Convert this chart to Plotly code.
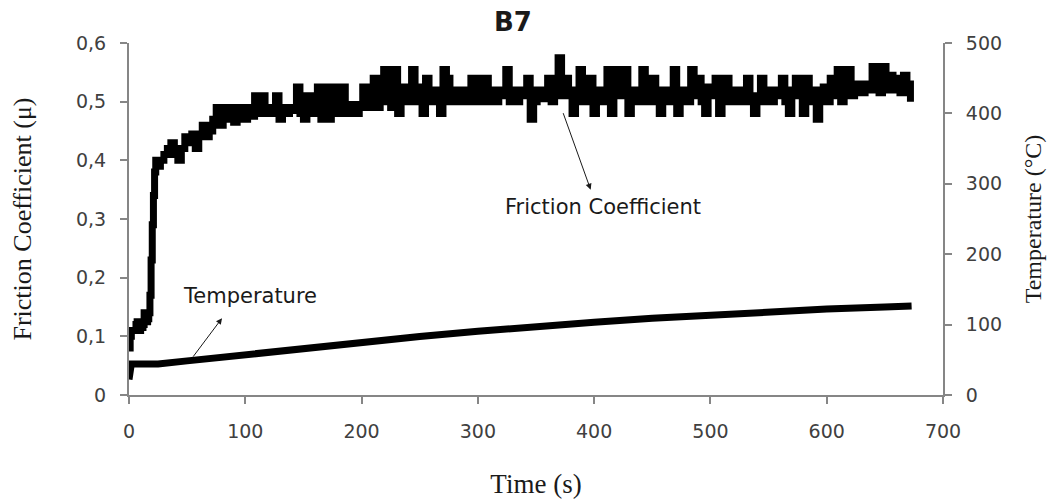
import numpy as np
import plotly.graph_objects as go

# ---- Data ----
# Friction coefficient, start-up phase (explicit times, s)
early_time = [0, 1, 2, 4, 6, 7, 8, 10, 12, 13, 14, 16, 17, 18, 19, 20, 21, 22, 23, 25, 27]
early_mu = [0.08, 0.10, 0.11, 0.11, 0.12, 0.125, 0.11, 0.115, 0.12, 0.14, 0.125, 0.13, 0.14,
            0.17, 0.23, 0.29, 0.34, 0.38, 0.40, 0.39, 0.40]

# Friction coefficient, sampled every 3 s from t = 30 s
plateau_start = 30
plateau_step = 3
plateau_mu = [
    0.41, 0.42, 0.43, 0.41, 0.40, 0.42, 0.44, 0.43, 0.445, 0.42,   # 30-57
    0.44, 0.46, 0.44, 0.45, 0.47, 0.49, 0.46, 0.49, 0.47, 0.49,    # 60-87
    0.465, 0.48, 0.49, 0.47, 0.49, 0.475, 0.51, 0.48, 0.51, 0.49,  # 90-117
    0.48, 0.49, 0.51, 0.47, 0.49, 0.48, 0.49, 0.485, 0.525, 0.48,  # 120-147
    0.47, 0.51, 0.49, 0.48, 0.525, 0.47, 0.525, 0.47, 0.525, 0.49, # 150-177
    0.48, 0.525, 0.49, 0.48, 0.495, 0.48, 0.49, 0.525, 0.49, 0.50, # 180-207
    0.54, 0.49, 0.51, 0.555, 0.50, 0.49, 0.555, 0.48, 0.525, 0.50, # 210-237
    0.51, 0.555, 0.50, 0.525, 0.48, 0.54, 0.51, 0.50, 0.52, 0.48,  # 240-267
    0.555, 0.54, 0.50, 0.52, 0.51, 0.50, 0.52, 0.50, 0.54, 0.51,   # 270-297
    0.50, 0.54, 0.54, 0.50, 0.52, 0.50, 0.51, 0.52, 0.555, 0.50,   # 300-327
    0.52, 0.50, 0.51, 0.52, 0.54, 0.47, 0.50, 0.52, 0.505, 0.52,   # 330-357
    0.54, 0.50, 0.52, 0.575, 0.51, 0.54, 0.52, 0.48, 0.52, 0.555,  # 360-387
    0.50, 0.52, 0.54, 0.48, 0.52, 0.50, 0.52, 0.555, 0.48, 0.52,   # 390-417
    0.555, 0.51, 0.555, 0.48, 0.52, 0.50, 0.52, 0.555, 0.50, 0.52, # 420-447
    0.54, 0.50, 0.48, 0.52, 0.50, 0.52, 0.555, 0.48, 0.51, 0.52,   # 450-477
    0.50, 0.555, 0.51, 0.54, 0.50, 0.48, 0.525, 0.51, 0.54, 0.48,  # 480-507
    0.52, 0.54, 0.50, 0.52, 0.51, 0.50, 0.52, 0.54, 0.50, 0.48,    # 510-537
    0.51, 0.54, 0.50, 0.52, 0.50, 0.52, 0.51, 0.54, 0.50, 0.48,    # 540-567
    0.52, 0.54, 0.51, 0.48, 0.54, 0.50, 0.52, 0.47, 0.51, 0.525,   # 570-597
    0.50, 0.54, 0.51, 0.555, 0.50, 0.52, 0.555, 0.51, 0.52, 0.53,  # 600-627
    0.515, 0.53, 0.52, 0.56, 0.53, 0.515, 0.56, 0.52, 0.545, 0.52, # 630-657
    0.54, 0.515, 0.545, 0.53, 0.50,                                # 660-672
]

# Temperature (°C)
temp_time = [0, 1, 2, 20, 25, 50, 100, 150, 200, 250, 300, 350, 400, 450, 500, 550, 600, 650, 673]
temp_val = [22, 35, 44, 44, 44, 48.5, 57.5, 66.5, 75, 83, 90.5, 97.5, 103.5, 109, 114, 118.5,
            122, 125, 126.5]

# Axis ticks
x_ticks = [0, 100, 200, 300, 400, 500, 600, 700]
mu_ticks = [0, 0.1, 0.2, 0.3, 0.4, 0.5, 0.6]
mu_tick_text = ["0", "0,1", "0,2", "0,3", "0,4", "0,5", "0,6"]
t_ticks = [0, 100, 200, 300, 400, 500]

plateau_time = [plateau_start + plateau_step * i for i in range(len(plateau_mu))]
friction_time = early_time + plateau_time
friction_mu = early_mu + plateau_mu

axis_grey = "#868686"
sans = "DejaVu Sans, Open Sans, sans-serif"
serif = "Liberation Serif, Times New Roman, serif"
tick_font = dict(family=sans, size=19, color="#404040")
text_dark = "#1a1a1a"

fig = go.Figure()
fig.add_trace(go.Scatter(x=friction_time, y=friction_mu, mode="lines",
                         line=dict(color="black", width=7, shape="hv"),
                         name="Friction Coefficient", yaxis="y"))
fig.add_trace(go.Scatter(x=temp_time, y=temp_val, mode="lines",
                         line=dict(color="black", width=7),
                         name="Temperature", yaxis="y2"))

common_axis = dict(showgrid=False, zeroline=False, showline=True, linecolor=axis_grey,
                   linewidth=2, ticks="outside", ticklen=7, tickwidth=2, tickcolor=axis_grey,
                   tickfont=tick_font, automargin=False)

fig.update_layout(
    width=1056, height=502,
    # page body adds an 8 px offset; compensate so the plot sits at the reference position
    margin=dict(l=121, r=121, t=35, b=115),
    paper_bgcolor="white", plot_bgcolor="white",
    showlegend=False,
    title=dict(text="<b>B7</b>", x=0.4782, xanchor="center", y=0.972, yanchor="middle",
               font=dict(family=sans, size=26, color=text_dark)),
    xaxis=dict(range=[0, 700], tickvals=x_ticks, ticklabelstandoff=11,
               title=dict(text="Time (s)", font=dict(family=serif, size=27, color=text_dark),
                          standoff=33),
               **common_axis),
    yaxis=dict(range=[0, 0.6], tickvals=mu_ticks, ticktext=mu_tick_text, ticklabelstandoff=10,
               title=dict(text="Friction Coefficient (μ)",
                          font=dict(family=serif, size=26, color=text_dark), standoff=38),
               **common_axis),
    yaxis2=dict(range=[0, 500], tickvals=t_ticks, overlaying="y", side="right",
                ticklabelstandoff=10,
                title=dict(text="Temperature (°C)",
                           font=dict(family=serif, size=24, color=text_dark), standoff=23),
                **common_axis),
)

label_font = dict(family=sans, size=21, color=text_dark)
# Arrow to friction label
fig.add_annotation(x=397, y=0.35, xref="x", yref="y", ax=-28, ay=-78,
                   showarrow=True, arrowhead=2, arrowsize=1.2, arrowwidth=1,
                   arrowcolor=text_dark, text="")
fig.add_annotation(x=408, y=0.321, xref="x", yref="y", text="Friction Coefficient",
                   showarrow=False, font=label_font)
# Arrow to temperature label
fig.add_annotation(x=80, y=0.131, xref="x", yref="y", ax=-30, ay=40,
                   showarrow=True, arrowhead=2, arrowsize=1.2, arrowwidth=1,
                   arrowcolor=text_dark, text="")
fig.add_annotation(x=104, y=0.168, xref="x", yref="y", text="Temperature",
                   showarrow=False, font=label_font)

fig.write_html("out.html")
